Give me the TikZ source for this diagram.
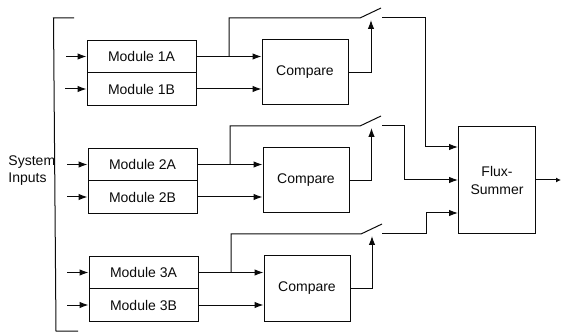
\documentclass[tikz,border=0pt]{standalone}
\usepackage{fontspec}
\setmainfont{Liberation Sans}
\definecolor{INKcol1}{HTML}{0A0A0A}
\usetikzlibrary{calc,positioning,arrows.meta}

\begin{document}
\begin{tikzpicture}[x=1pt,y=-1pt,line width=1pt,
            modbox/.style={draw=INKcol1, minimum width=109pt, minimum height=32.5pt, inner sep=0pt, text=INKcol1, font=\fontsize{14}{16}\selectfont},
            cmpbox/.style={draw=INKcol1, minimum width=86pt, minimum height=65pt, inner sep=0pt, text=INKcol1, font=\fontsize{14}{16}\selectfont},
            lbl/.style={text=INKcol1, inner sep=0pt, font=\fontsize{14}{16}\selectfont},
            wire/.style={draw=INKcol1},
            sig/.style={wire, -{Latex[length=9pt,width=6.5pt]}}]
        \useasboundingbox (0,0) rectangle (563,334);
        % module pairs
        \node[modbox] (m1a) at (141.5,56.5)  {Module 1A}; \node[modbox] (m1b) at (141.5,89) {Module 1B};
        \node[modbox] (m2a) at (142.5,164.5) {Module 2A}; \node[modbox] (m2b) at (142.5,197) {Module 2B};
        \node[modbox] (m3a) at (143.5,272.5) {Module 3A}; \node[modbox] (m3b) at (143.5,305) {Module 3B};
        % comparators and summer
        \node[cmpbox] (c1) at (305,72.5)  {Compare};
        \node[cmpbox] (c2) at (306,180.5) {Compare};
        \node[cmpbox] (c3) at (307,288.5) {Compare};
        \node[draw=INKcol1, minimum width=77pt, minimum height=106.5pt, inner sep=0pt, text=INKcol1,
              align=center, font=\fontsize{14}{18}\selectfont] (fs) at (497,180) {Flux-\\Summer};
        % input bracket
        \coordinate (bt) at (74,18); \coordinate (bb) at (78,331);
        \draw[wire] (bt) -- (53.5,18) -- (56,331) -- (bb);
        \node[lbl, anchor=west] (sys) at (8,162) {System};
        \node[lbl, anchor=west] (inp) at (8,179) {Inputs};
        % inputs
        \coordinate (i1a) at (66,56.5);  \coordinate (i1b) at (65,89);
        \coordinate (i2a) at (67,164.5); \coordinate (i2b) at (67,197);
        \coordinate (i3a) at (67,272.5); \coordinate (i3b) at (67,305);
        \draw[sig] (i1a) -- (m1a); \draw[sig] (i1b) -- (m1b);
        \draw[sig] (i2a) -- (m2a); \draw[sig] (i2b) -- (m2b);
        \draw[sig] (i3a) -- (m3a); \draw[sig] (i3b) -- (m3b);
        % module to compare
        \draw[sig] (m1a.east) -- (m1a.east -| c1.west); \draw[sig] (m1b.east) -- (m1b.east -| c1.west);
        \draw[sig] (m2a.east) -- (m2a.east -| c2.west); \draw[sig] (m2b.east) -- (m2b.east -| c2.west);
        \draw[sig] (m3a.east) -- (m3a.east -| c3.west); \draw[sig] (m3b.east) -- (m3b.east -| c3.west);
        % switch contacts
        \coordinate (s1l) at (360,18);  \coordinate (s1h) at (381,8);   \coordinate (s1r) at (382,18);
        \coordinate (s2l) at (360,126); \coordinate (s2h) at (381,116); \coordinate (s2r) at (382,126);
        \coordinate (s3l) at (361,234); \coordinate (s3h) at (382,224); \coordinate (s3r) at (382,234);
        % taps through the switches
        \coordinate (t1) at (229,56.5);  \coordinate (t2) at (230,164.5); \coordinate (t3) at (231,272.5);
        \draw[wire] (t1) |- (s1l) -- (s1h);
        \draw[wire] (t2) |- (s2l) -- (s2h);
        \draw[wire] (t3) |- (s3l) -- (s3h);
        % compare to switch
        \coordinate (g1) at (371,20);  \coordinate (g2) at (371.5,128); \coordinate (g3) at (372,236);
        \draw[sig] (c1.east) -| (g1);
        \draw[sig] (c2.east) -| (g2);
        \draw[sig] (c3.east) -| (g3);
        % switch to summer
        \coordinate (f1) at (458,147); \coordinate (f2) at (458,180); \coordinate (f3) at (458,213);
        \draw[sig] (s1r) -- (425,18)  -- (425,147) -- (f1);
        \draw[sig] (s2r) -- (404,126) -- (404,180) -- (f2);
        \draw[sig] (s3r) -- (426,234) -- (426,213) -- (f3);
        % output
        \coordinate (o) at (561,180);
        \draw[wire, -{Latex[length=5pt,width=5pt]}] (fs.east) -- (o);
      \end{tikzpicture}
\end{document}
